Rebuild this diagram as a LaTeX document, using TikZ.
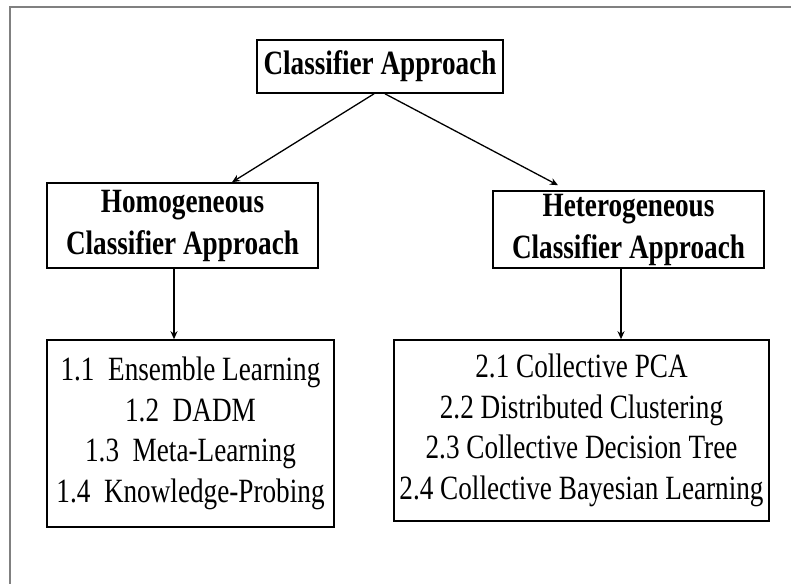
\documentclass[tikz,border=0pt]{standalone}
\usepackage{fontspec}
\setmainfont{Liberation Serif}[FakeStretch=0.8]
\usepackage{tikz}
\usetikzlibrary{arrows.meta,positioning}

\begin{document}
\begin{tikzpicture}[x=1pt,y=-1pt,
  box/.style={draw=black,line width=1.6pt,inner sep=0pt,align=center},
  head/.style={box,font=\bfseries\fontsize{34}{42}\selectfont},
  items/.style={box,font=\fontsize{34}{40.5}\selectfont},
  link/.style={-{Stealth[length=8pt,width=7pt]},line width=1.3pt}]
\useasboundingbox (0,0) rectangle (791,584);
% frame
\draw [gray,line width=2pt] (791,7) -- (10,7) -- (10,584);
% boxes
\node [head,minimum width=246pt,minimum height=53pt] (root) at (380,66.5) {Classifier Approach};
\node [head,minimum width=271pt,minimum height=85pt] (homo) at (182.5,225.5) {Homogeneous\\Classifier Approach};
\node [head,minimum width=271pt,minimum height=77pt] (hetero) at (628.5,229.5) {Heterogeneous\\Classifier Approach};
\node [items,minimum width=287pt,minimum height=187pt] (homolist) at (190.5,433.5)
  {1.1\ \ Ensemble Learning\\1.2\ \ DADM\\1.3\ \ Meta-Learning\\1.4\ \ Knowledge-Probing};
\node [items,minimum width=375pt,minimum height=181pt] (heterolist) at (581.5,430.5)
  {2.1 Collective PCA\\2.2 Distributed Clustering\\2.3 Collective Decision Tree\\2.4 Collective Bayesian Learning};
% arrows
\draw [link] ([xshift=-6pt]root.south) -- ([xshift=49.5pt]homo.north);
\draw [link] ([xshift=5pt]root.south) -- ([xshift=-70.5pt,yshift=5pt]hetero.north);
\draw [link] ([xshift=-8.5pt]homo.south) -- ([xshift=-16.5pt]homolist.north);
\draw [link] ([xshift=-7.5pt]hetero.south) -- ([xshift=39.5pt]heterolist.north);
\end{tikzpicture}
\end{document}
